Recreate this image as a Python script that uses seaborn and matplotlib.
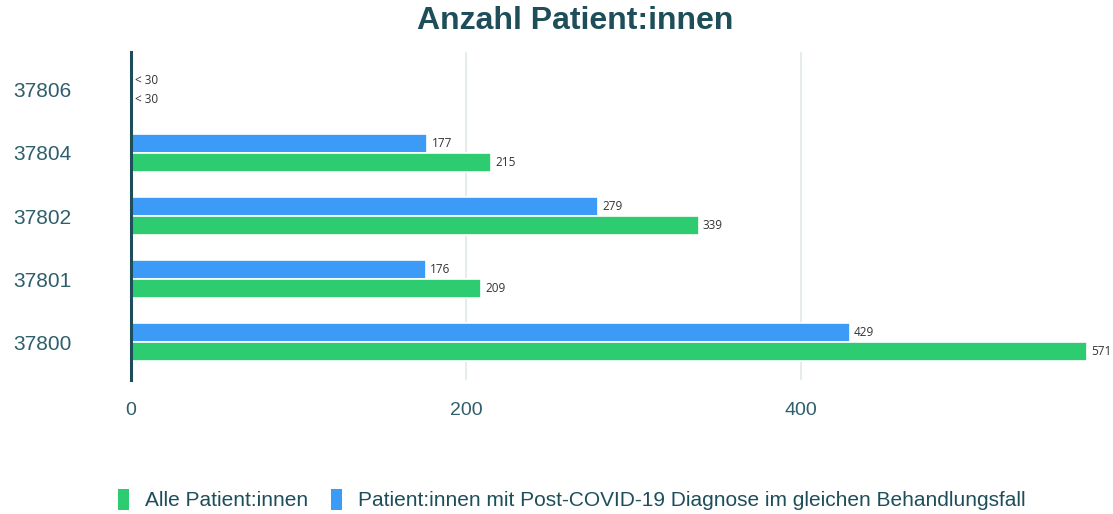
import matplotlib
matplotlib.use("Agg")
import matplotlib.pyplot as plt
import seaborn as sns
import pandas as pd
import numpy as np
from matplotlib.patches import Patch

categories = ["37806", "37804", "37802", "37801", "37800"]
alle = [0, 215, 339, 209, 571]
post = [0, 177, 279, 176, 429]
alle_labels = ["< 30", "215", "339", "209", "571"]
post_labels = ["< 30", "177", "279", "176", "429"]
series = ["Alle Patient:innen", "Patient:innen mit Post-COVID-19 Diagnose im gleichen Behandlungsfall"]
xticks = [0, 200, 400]

GREEN = "#2ecc71"
BLUE = "#3d9bf8"
TEAL = "#1d4e5a"
TICK = "#2f5e6c"

rows = []
for c, p, a in zip(categories, post, alle):
    rows.append({"cat": c, "series": series[1], "val": p})
    rows.append({"cat": c, "series": series[0], "val": a})
df = pd.DataFrame(rows)

sns.set_theme(style="white")
plt.rcParams["font.family"] = ["Liberation Sans", "DejaVu Sans"]

fig = plt.figure(figsize=(11.13, 5.14), dpi=100)
ax = fig.add_axes([131/1113, 1-380/514, (1089-131)/1113, (380-52)/514])

sns.barplot(data=df, y="cat", x="val", hue="series", order=categories,
            hue_order=[series[1], series[0]],
            palette=[BLUE, GREEN], orient="h", width=0.6, ax=ax,
            edgecolor="white", linewidth=1.2, legend=False, saturation=1)

ax.set_xlim(0, 572)
ax.set_ylim(4.6, -0.6)
ax.set_xticks(xticks)
ax.set_xticklabels([str(t) for t in xticks])
ax.grid(axis="x", color="#e6ecee", linewidth=1.5)
ax.set_axisbelow(True)
for s in ["top", "right", "bottom"]:
    ax.spines[s].set_visible(False)
ax.spines["left"].set_color(TEAL)
ax.spines["left"].set_linewidth(2.2)
ax.tick_params(axis="x", length=0, colors=TICK, labelsize=14, pad=16)
ax.tick_params(axis="y", length=0, colors=TICK, labelsize=15, pad=85)
for lbl in ax.get_yticklabels():
    lbl.set_horizontalalignment("left")
ax.set_xlabel("")
ax.set_ylabel("")

# value labels
containers = ax.containers
lab_font = dict(fontsize=8.5, color="#333333", family=["Open Sans", "DejaVu Sans"])
ax.bar_label(containers[0], labels=post_labels, padding=3, **lab_font)
ax.bar_label(containers[1], labels=alle_labels, padding=3, **lab_font)

fig.text(0.517, 0.960, "Anzahl Patient:innen", ha="center", va="center",
         fontsize=23, fontweight="bold", color=TEAL)

handles = [Patch(facecolor=GREEN, edgecolor="none"), Patch(facecolor=BLUE, edgecolor="none")]
fig.legend(handles, series, loc="center", bbox_to_anchor=(0.5135, 0.028), ncol=2,
           frameon=False, fontsize=15, labelcolor=TEAL, handlelength=0.55,
           handleheight=1.2, handletextpad=0.75, columnspacing=1.1)

fig.savefig("out.png", dpi=100)
